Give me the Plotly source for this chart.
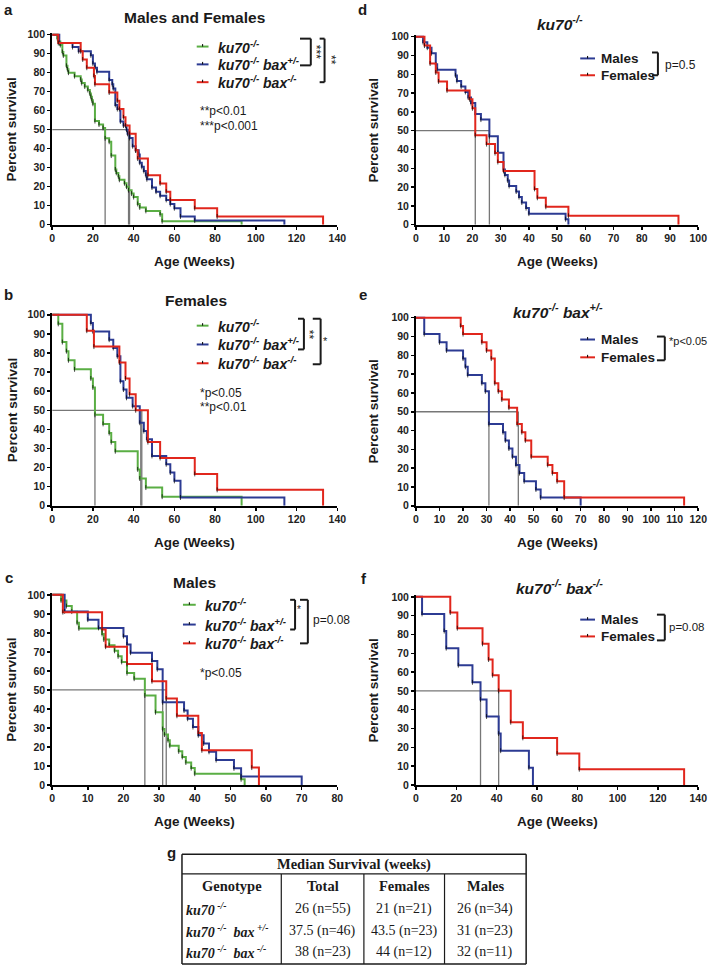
import plotly.graph_objects as go

W, H = 721, 973
SANS = "Liberation Sans, Arial, sans-serif"
SERIF = "Liberation Serif, Times New Roman, serif"

GREEN = "#5aae44"
BLUE = "#2c3b93"
RED = "#e1261c"
GRAY = "#777777"
INK = "#1a1a1a"

# ---------------- data: ages at death (weeks) ----------------
ku70_female = [3, 5, 5, 7, 8, 11, 19, 20, 21, 21, 21, 25, 28, 29, 31, 42, 42, 43, 46, 54, 93]
ku70_male = [2.5, 4, 5.5, 7, 7, 7.5, 14, 14.5, 16, 17.5, 18.5, 19.5, 21, 21, 23, 26, 26, 26,
             29, 29, 29, 31, 31, 31, 31.5, 32.5, 33, 35.5, 36.5, 37.5, 39, 40, 53, 54]
baxhet_female = [19, 20, 28, 30, 32, 33.5, 33.5, 33.5, 35, 36.5, 39.5, 43, 43, 45, 46.5,
                 49, 49, 56, 58, 60, 63, 63, 114]
baxhet_male = [3.5, 3.5, 10, 13, 20, 21, 22, 28, 29.5, 31, 31, 31, 31, 37, 38, 39.5, 41,
               42.5, 44, 46, 51, 53, 70]
baxko_female = [17, 20.5, 33, 36, 38, 41, 47, 47, 53, 70, 81, 133]
baxko_male = [3, 14, 15, 21, 28, 32, 35, 41, 42, 56, 58]

# median-survival guide lines drawn in each panel (weeks)
median_a = [26, 37.5, 38]
median_b = [21, 43.5, 44]
median_c = [26, 31, 32]
median_d = [21, 26]
median_e = [31, 43.5]
median_f = [32, 41]

# x-axis extents / tick steps
xmax_a, xmax_b, xmax_c, xmax_d, xmax_e, xmax_f = 140, 140, 80, 100, 120, 140
dtick_a, dtick_b, dtick_c, dtick_d, dtick_e, dtick_f = 20, 20, 10, 10, 10, 20
y_ticks = [0, 10, 20, 30, 40, 50, 60, 70, 80, 90, 100]

# legend labels
genotype_names = ["ku70<sup>-/-</sup>", "ku70<sup>-/-</sup> bax<sup>+/-</sup>",
                  "ku70<sup>-/-</sup> bax<sup>-/-</sup>"]
sex_names = ["Males", "Females"]

# table g
table_genotypes = ["ku70<sup> -/-</sup>", "ku70<sup> -/-</sup>  bax<sup> +/-</sup>",
                   "ku70<sup> -/-</sup>  bax<sup> -/-</sup>"]
table_total = ["26 (n=55)", "37.5 (n=46)", "38 (n=23)"]
table_females = ["21 (n=21)", "43.5 (n=23)", "44 (n=12)"]
table_males = ["26 (n=34)", "31 (n=23)", "32 (n=11)"]


def km(ages):
    n = len(ages)
    xs, ys = [0], [100.0]
    remaining = n
    for t in sorted(set(ages)):
        remaining -= ages.count(t)
        xs.append(t)
        ys.append(100.0 * remaining / n)
    return xs, ys


def P(x, y):
    return x / W, 1 - y / H


fig = go.Figure()

# panel geometry in pixels: (axis index, x0, x1, y_of_100, y_of_0)
geom = {
    "a": (1, 50, 340, 31, 223),
    "d": (2, 420, 707, 33, 223),
    "b": (3, 50, 340, 314, 507),
    "e": (4, 420, 707, 317, 507),
    "c": (5, 50, 340, 597, 789),
    "f": (6, 420, 707, 599, 789),
}
xmax = {"a": xmax_a, "b": xmax_b, "c": xmax_c, "d": xmax_d, "e": xmax_e, "f": xmax_f}
dtick = {"a": dtick_a, "b": dtick_b, "c": dtick_c, "d": dtick_d, "e": dtick_e, "f": dtick_f}
medians = {"a": median_a, "b": median_b, "c": median_c, "d": median_d, "e": median_e, "f": median_f}

curves = {
    "a": [(ku70_female + ku70_male, GREEN, genotype_names[0]),
          (baxhet_female + baxhet_male, BLUE, genotype_names[1]),
          (baxko_female + baxko_male, RED, genotype_names[2])],
    "b": [(ku70_female, GREEN, genotype_names[0]),
          (baxhet_female, BLUE, genotype_names[1]),
          (baxko_female, RED, genotype_names[2])],
    "c": [(ku70_male, GREEN, genotype_names[0]),
          (baxhet_male, BLUE, genotype_names[1]),
          (baxko_male, RED, genotype_names[2])],
    "d": [(ku70_male, BLUE, sex_names[0]), (ku70_female, RED, sex_names[1])],
    "e": [(baxhet_male, BLUE, sex_names[0]), (baxhet_female, RED, sex_names[1])],
    "f": [(baxko_male, BLUE, sex_names[0]), (baxko_female, RED, sex_names[1])],
}

YTOP = 101
for key, (idx, x0, x1, y100, y0) in geom.items():
    xa = "x" if idx == 1 else f"x{idx}"
    ya = "y" if idx == 1 else f"y{idx}"
    # median guide lines
    meds = medians[key]
    mx, my = [0, max(meds)], [50, 50]
    for m in meds:
        mx += [None, m, m]
        my += [None, 50, 0]
    fig.add_trace(go.Scatter(x=mx, y=my, mode="lines", xaxis=xa, yaxis=ya,
                             line=dict(color=GRAY, width=1.3), showlegend=False,
                             hoverinfo="skip"))
    for ages, col, name in curves[key]:
        xs, ys = km(ages)
        sizes = [0] + [3.5] * (len(xs) - 2) + [0]
        fig.add_trace(go.Scatter(x=xs, y=ys, mode="lines+markers", name=name,
                                 xaxis=xa, yaxis=ya, showlegend=False,
                                 line=dict(color=col, width=2, shape="hv"),
                                 marker=dict(symbol="line-ns", size=sizes, color="black",
                                             line=dict(color="black", width=1))))
    ppu = (y0 - y100) / 100.0
    ytop_px = y100 - (YTOP - 100) * ppu
    axis_common = dict(showline=True, linewidth=2, linecolor="black", ticks="outside",
                       ticklen=3, tickwidth=1.5, tickcolor="black", showgrid=False,
                       zeroline=False, mirror=False,
                       tickfont=dict(family=SANS, size=10.5, color="#222"))
    xt = list(range(0, xmax[key] + 1, dtick[key]))
    fig.layout[f"xaxis{'' if idx == 1 else idx}"] = dict(
        domain=[x0 / W, x1 / W], range=[0, xmax[key]], tickvals=xt,
        ticktext=[f"<b>{v}</b>" for v in xt], anchor=ya, **axis_common)
    fig.layout[f"yaxis{'' if idx == 1 else idx}"] = dict(
        domain=[1 - y0 / H, 1 - ytop_px / H], range=[0, YTOP], tickvals=y_ticks,
        ticktext=[f"<b>{v}</b>" for v in y_ticks], anchor=xa, **axis_common)

ann = []
shapes = []


def text(x, y, s, size, family=SANS, anchor="center", color=INK, angle=0):
    px, py = P(x, y)
    ann.append(dict(x=px, y=py, xref="paper", yref="paper", text=s, showarrow=False,
                    xanchor=anchor, yanchor="middle", textangle=angle,
                    font=dict(family=family, size=size, color=color)))


def line(xa, ya, xb, yb, color=INK, width=2):
    pa, qa = P(xa, ya)
    pb, qb = P(xb, yb)
    shapes.append(dict(type="line", xref="paper", yref="paper", x0=pa, y0=qa, x1=pb, y1=qb,
                       line=dict(color=color, width=width)))


# panel letters
for s, x, y in [("a", 6, 6), ("d", 366, 6), ("b", 6, 294), ("e", 366, 294), ("c", 6, 579),
                ("f", 367, 580)]:
    text(x, y, f"<b>{s}</b>", 15)

# titles
text(195, 14, "<b>Males and Females</b>", 15.5)
text(566, 19, "<b><i>ku70<sup>-/-</sup></i></b>", 15.5)
text(196, 300, "<b>Females</b>", 15.5)
text(564, 310, "<b><i>ku70<sup>-/-</sup> bax<sup>+/-</sup></i></b>", 15.5)
text(195, 585, "<b>Males</b>", 15.5)
text(566, 589, "<b><i>ku70<sup>-/-</sup> bax<sup>-/-</sup></i></b>", 15.5)

# axis titles
for key, (idx, x0, x1, y100, y0) in geom.items():
    text((x0 + x1) / 2, y0 + 37, "<b>Age (Weeks)</b>", 13.5)
    yt_x = 9 if x0 < 200 else 377
    text(yt_x, (y100 + y0) / 2, "<b>Percent survival</b>", 13.5, angle=-90)

# legends
legend_geom = {
    "a": (197, 209, 217, [43, 61, 79]),
    "b": (197, 209, 217, [325, 344, 363]),
    "c": (183, 196, 203, [607, 627, 646]),
    "d": (587, 602, 606, [55, 72]),
    "e": (587, 602, 606, [339, 357]),
    "f": (587, 602, 606, [622, 639]),
}
for key, (lx0, lx1, tx, rows) in legend_geom.items():
    for (ages, col, name), ry in zip(curves[key], rows):
        line(lx0, ry, lx1, ry, color=col, width=2)
        cx = (lx0 + lx1) / 2
        line(cx, ry - 2.5, cx, ry, color="black", width=1)
        if key in ("a", "b", "c"):
            text(tx, ry, f"<b><i>{name}</i></b>", 14, anchor="left")
        else:
            text(tx, ry, f"<b>{name}</b>", 13.5, anchor="left")


def bracket(xl, xv, yt, yb):
    line(xl, yt, xv, yt)
    line(xv, yt, xv, yb)
    line(xl, yb, xv, yb)


# significance brackets
bracket(302, 313, 35, 62)
text(319, 48, "***", 12, angle=90)
bracket(322, 327, 35, 79)
text(333, 57, "**", 12, angle=90)
text(198, 108, "**p<0.01", 12, anchor="left")
text(198, 123, "***p<0.001", 12, anchor="left")

bracket(300, 306, 318, 349)
text(312, 334, "**", 12, angle=90)
bracket(315, 323, 318, 364)
text(328, 340, "*", 11)
text(198, 393, "*p<0.05", 12, anchor="left")
text(198, 407, "**p<0.01", 12, anchor="left")

bracket(292, 297, 602, 632)
text(301, 612, "*", 10)
bracket(302, 310, 602, 646)
text(313, 622, "p=0.08", 12, anchor="left")
text(198, 676, "*p<0.05", 12, anchor="left")

bracket(660, 666, 49, 72)
text(671, 62, "p=0.5", 12, anchor="left")
bracket(665, 673, 336, 360)
text(675, 340, "*p<0.05", 11, anchor="left")
bracket(665, 673, 617, 643)
text(675, 629, "p=0.08", 11.5, anchor="left")

# ---------------- table g ----------------
text(171, 857, "<b>g</b>", 15)
TL, TR, TT, TH, TB = 182, 532, 859, 879, 970
cols = [TL, 283, 367, 449, TR]
line(TL, TT, TR, TT, width=1.5)
line(TL, TB, TR, TB, width=1.5)
line(TL, TT, TL, TB, width=1.5)
line(TR, TT, TR, TB, width=1.5)
line(TL, TH, TR, TH, width=1.2)
for cx in cols[1:-1]:
    line(cx, TH, cx, TB, width=1.2)
text((TL + TR) / 2, 869, "<b>Median Survival (weeks)</b>", 14.5, family=SERIF)
heads = ["Genotype", "Total", "Females", "Males"]
for i, hd in enumerate(heads):
    text((cols[i] + cols[i + 1]) / 2, 891, f"<b>{hd}</b>", 14.5, family=SERIF)
row_y = [914, 937, 958]
for r, y in enumerate(row_y):
    text(184, y, f"<b><i>{table_genotypes[r]}</i></b>", 14, family=SERIF, anchor="left")
    for c, vals in enumerate([table_total, table_females, table_males]):
        text((cols[c + 1] + cols[c + 2]) / 2, y, vals[r], 14, family=SERIF)

fig.update_layout(width=W, height=H, autosize=False, margin=dict(l=0, r=0, t=0, b=0),
                  paper_bgcolor="white", plot_bgcolor="white", showlegend=False,
                  annotations=ann, shapes=shapes, hovermode=False,
                  font=dict(family=SANS, color=INK))
fig.write_html("out.html", config={"displayModeBar": False, "staticPlot": True},
               post_script="document.body.style.margin='0';"
                           "document.body.style.overflow='hidden';")
